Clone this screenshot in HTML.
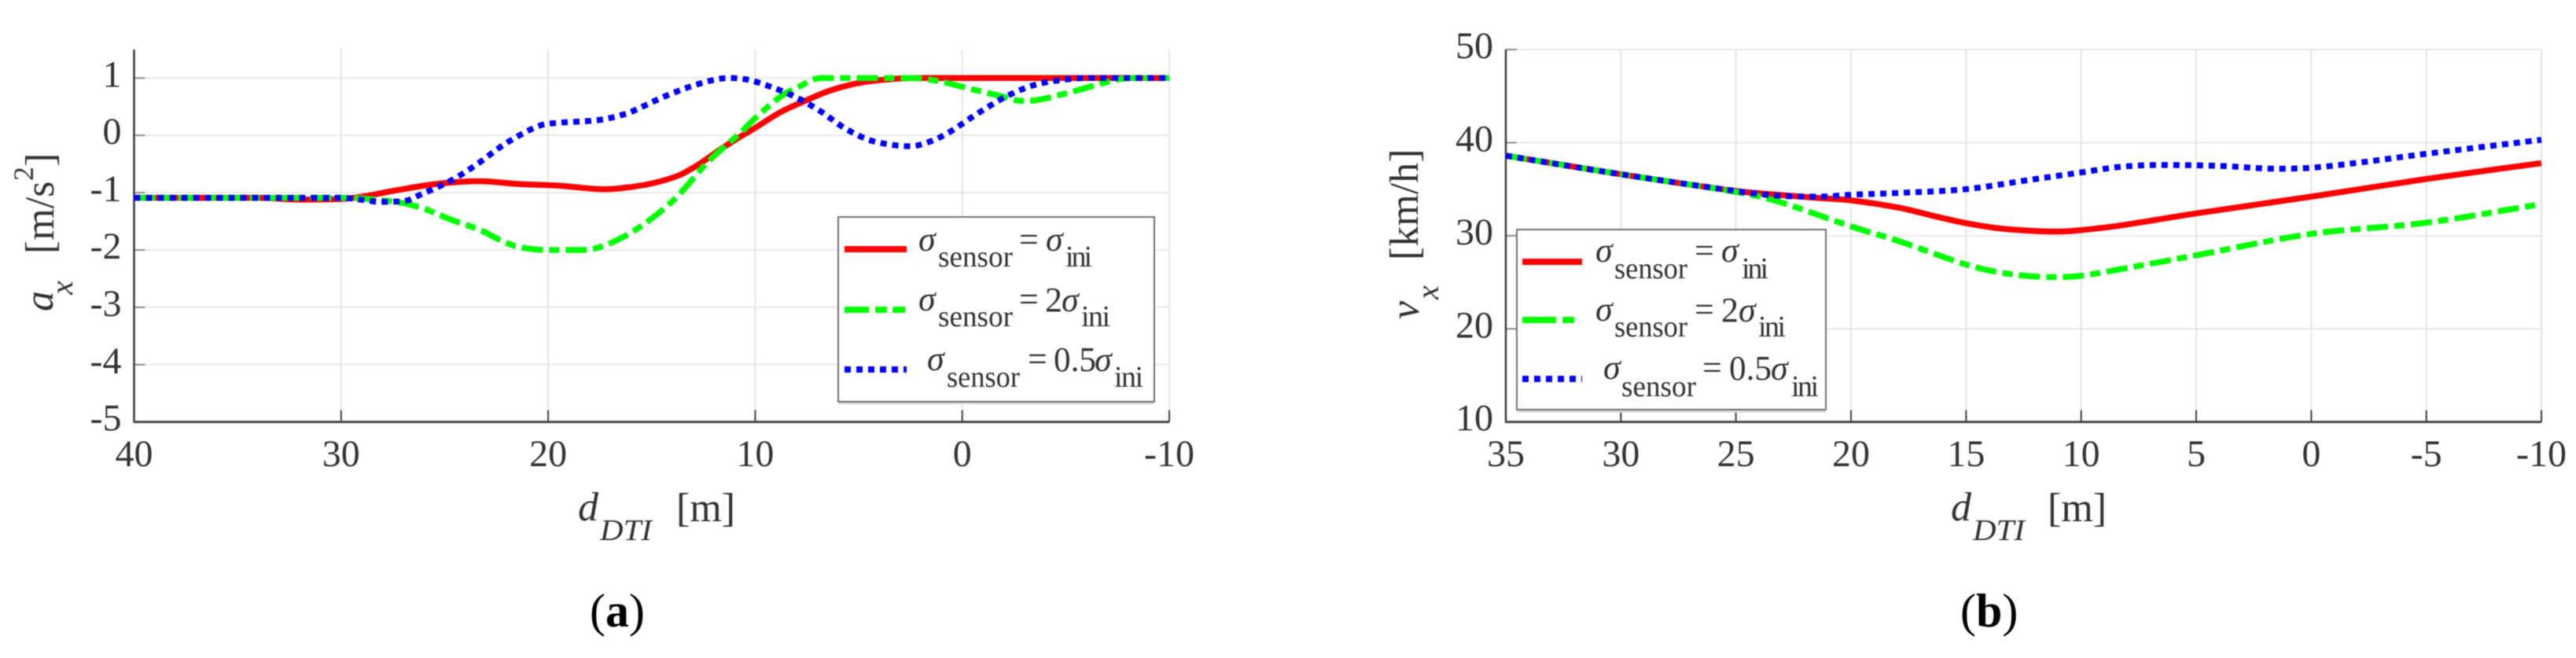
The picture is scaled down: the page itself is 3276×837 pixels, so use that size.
<!DOCTYPE html>
<html lang="en">
<head>
<meta charset="utf-8">
<title>Longitudinal acceleration and velocity versus distance</title>
<style>
html,body{margin:0;padding:0;background:#fff;width:3276px;height:837px;overflow:hidden}
svg{display:block;filter:blur(0.6px)}
text{font-family:"Liberation Serif",serif;fill:#333}
.it{font-style:italic}
.sym{font-style:italic;font-size:44px}
.sub{font-size:38px}
.eq{font-size:44px}
.tick{font-size:48px}
.lab{font-size:52px}
.cap{font-size:60px;fill:#000}
</style>
</head>
<body>
<svg id="figure" xmlns="http://www.w3.org/2000/svg" width="3276" height="837" viewBox="0 0 3276 837">
  <rect width="3276" height="837" fill="#fff"/>
  <g id="chart-a"></g>
  <g id="chart-b"></g>

  <g>
    <text class="it" font-size="52" transform="translate(67,396) rotate(-90)">a</text>
    <text class="it" font-size="40" transform="translate(92,375) rotate(-90)">x</text>
    <text class="lab" transform="translate(68,323) rotate(-90)">[m/s</text>
    <text font-size="36" transform="translate(42,230) rotate(-90)">2</text>
    <text class="lab" transform="translate(68,212) rotate(-90)">]</text>
  </g>
  <g>
    <text class="it" font-size="52" x="735" y="662">d</text>
    <text class="it" font-size="38" x="763" y="687" textLength="66" lengthAdjust="spacingAndGlyphs">DTI</text>
    <text class="lab" x="860" y="663">[m]</text>
  </g>
  <text class="cap" x="750" y="797">(<tspan font-weight="bold">a</tspan>)</text>

  <g>
    <text class="it" font-size="52" transform="translate(1804,406) rotate(-90)">v</text>
    <text class="it" font-size="40" transform="translate(1829,381) rotate(-90)">x</text>
    <text class="lab" transform="translate(1803,331) rotate(-90)">[km/h]</text>
  </g>
  <g>
    <text class="it" font-size="52" x="2481" y="662">d</text>
    <text class="it" font-size="38" x="2509" y="687" textLength="66" lengthAdjust="spacingAndGlyphs">DTI</text>
    <text class="lab" x="2604" y="663">[m]</text>
  </g>
  <text class="cap" x="2493" y="797">(<tspan font-weight="bold">b</tspan>)</text>

  <g>
    <rect x="1066" y="509" width="402" height="5" fill="#d9d9d9"/>
    <rect x="1066" y="276" width="402" height="235" fill="#fff" stroke="#707070" stroke-width="2"/>
    <line x1="1074" x2="1153" y1="317" y2="317" stroke="#ff0000" stroke-width="8"/>
    <line x1="1074" x2="1153" y1="394" y2="394" stroke="#00ff00" stroke-width="8" stroke-dasharray="31 8 15 7 16 7"/>
    <line x1="1074" x2="1153" y1="470" y2="470" stroke="#0000ff" stroke-width="8" stroke-dasharray="8 7"/>
    <g>
      <text class="sym" x="1168" y="319">σ</text><text class="sub" x="1193" y="339" textLength="95" lengthAdjust="spacingAndGlyphs">sensor</text>
      <text class="eq" x="1296" y="319">=</text><text class="sym" x="1330" y="319">σ</text><text class="sub" x="1355" y="339" textLength="34">ini</text>
    </g>
    <g>
      <text class="sym" x="1168" y="395">σ</text><text class="sub" x="1193" y="415" textLength="95" lengthAdjust="spacingAndGlyphs">sensor</text>
      <text class="eq" x="1296" y="395">=</text><text class="eq" x="1329" y="396">2</text><text class="sym" x="1350" y="396">σ</text><text class="sub" x="1375" y="415" textLength="37">ini</text>
    </g>
    <g>
      <text class="sym" x="1179" y="471">σ</text><text class="sub" x="1204" y="492" textLength="93" lengthAdjust="spacingAndGlyphs">sensor</text>
      <text class="eq" x="1307" y="471">=</text><text class="eq" x="1340" y="472" textLength="54" lengthAdjust="spacingAndGlyphs">0.5</text><text class="sym" x="1392" y="472">σ</text><text class="sub" x="1417" y="492" textLength="37">ini</text>
    </g>
  </g>

  <g>
    <rect x="1929" y="520" width="393" height="5" fill="#d9d9d9"/>
    <rect x="1929" y="292" width="393" height="229" fill="#fff" stroke="#707070" stroke-width="2"/>
    <line x1="1936" x2="2012" y1="333" y2="333" stroke="#ff0000" stroke-width="8"/>
    <line x1="1936" x2="2012" y1="407" y2="407" stroke="#00ff00" stroke-width="8" stroke-dasharray="43 8 15 10"/>
    <line x1="1936" x2="2012" y1="482" y2="482" stroke="#0000ff" stroke-width="8" stroke-dasharray="8 7"/>
    <g>
      <text class="sym" x="2029" y="333">σ</text><text class="sub" x="2053" y="354" textLength="93" lengthAdjust="spacingAndGlyphs">sensor</text>
      <text class="eq" x="2155" y="333">=</text><text class="sym" x="2189" y="333">σ</text><text class="sub" x="2215" y="354" textLength="34">ini</text>
    </g>
    <g>
      <text class="sym" x="2029" y="408">σ</text><text class="sub" x="2053" y="428" textLength="93" lengthAdjust="spacingAndGlyphs">sensor</text>
      <text class="eq" x="2155" y="408">=</text><text class="eq" x="2189" y="409">2</text><text class="sym" x="2211" y="409">σ</text><text class="sub" x="2236" y="428" textLength="35">ini</text>
    </g>
    <g>
      <text class="sym" x="2039" y="482">σ</text><text class="sub" x="2062" y="504" textLength="95" lengthAdjust="spacingAndGlyphs">sensor</text>
      <text class="eq" x="2165" y="482">=</text><text class="eq" x="2199" y="483" textLength="54" lengthAdjust="spacingAndGlyphs">0.5</text><text class="sym" x="2252" y="483">σ</text><text class="sub" x="2278" y="504" textLength="35">ini</text>
    </g>
  </g>
</svg>
<script>
// Chart (a): acceleration values
const aXTicks = [40, 30, 20, 10, 0, -10];
const aYTicks = [1, 0, -1, -2, -3, -4, -5];
const aRedD = [40, 34, 32, 30, 29, 27.2, 25.2, 23.3, 21.4, 19.4, 17.3, 16.2, 15, 13.7, 12.7, 11.7, 10.7, 10, 8.8, 7.6, 6.4, 4.9, 3.5, 2.2, -10];
const aRedV = [-1.09, -1.09, -1.12, -1.11, -1.07, -0.95, -0.84, -0.8, -0.85, -0.88, -0.94, -0.91, -0.84, -0.7, -0.5, -0.25, -0.02, 0.13, 0.4, 0.6, 0.78, 0.92, 0.98, 1, 1];
const aGreenD = [40, 30, 29.1, 27.2, 26, 24.7, 23.3, 22.3, 21.4, 20, 18.4, 17.5, 16.2, 15, 13.8, 12.3, 10.7, 10, 8.8, 8, 6.8, 5.3, 2.5, 1.2, -0.4, -1.8, -2.9, -3.7, -5.3, -7.2, -8.1, -10];
const aGreenV = [-1.09, -1.09, -1.1, -1.17, -1.28, -1.47, -1.65, -1.83, -1.95, -2, -2, -1.95, -1.74, -1.45, -1.08, -0.47, 0.05, 0.3, 0.67, 0.83, 1, 1, 1, 0.95, 0.81, 0.69, 0.6, 0.62, 0.76, 0.95, 1, 1];
const aBlueD = [40, 30, 29.1, 28.1, 27, 26.2, 24.7, 23.5, 22, 20.4, 19.4, 17.5, 16.2, 15.8, 14.3, 12.7, 11.3, 10.35, 9.2, 8, 6.8, 5.7, 4.5, 3.3, 2.5, 1.5, 0.6, -0.4, -1.4, -2.3, -3.5, -4.9, -6.2, -10];
const aBlueV = [-1.09, -1.09, -1.12, -1.16, -1.15, -1.04, -0.79, -0.52, -0.13, 0.17, 0.22, 0.27, 0.38, 0.44, 0.69, 0.9, 1, 0.97, 0.84, 0.66, 0.41, 0.13, -0.08, -0.17, -0.19, -0.1, 0.06, 0.3, 0.53, 0.71, 0.88, 0.97, 1, 1];

// Chart (b): velocity values
const bXTicks = [35, 30, 25, 20, 15, 10, 5, 0, -5, -10];
const bYTicks = [50, 40, 30, 20, 10];
const bRedD = [35, 30, 25, 23.2, 21.4, 20, 17.9, 16.2, 15, 13.4, 11, 10, 8.3, 5, 0, -5, -10];
const bRedV = [38.6, 36.6, 34.8, 34.4, 34.05, 33.8, 33, 32, 31.35, 30.75, 30.45, 30.6, 31.1, 32.4, 34.2, 36.1, 37.8];
const bGreenD = [35, 30, 25, 23.2, 20, 17.9, 15, 13.4, 11.9, 11, 10, 8.3, 5, 0, -5, -10];
const bGreenV = [38.6, 36.6, 34.7, 33.7, 31, 29.4, 26.9, 26, 25.6, 25.55, 25.7, 26.4, 27.9, 30.2, 31.4, 33.4];
const bBlueD = [35, 30, 25, 23.2, 21.4, 20, 17.9, 15, 12.5, 10, 8.3, 6.6, 4, 1.5, 0, -1.9, -5, -10];
const bBlueV = [38.6, 36.6, 34.8, 34.3, 34.2, 34.4, 34.6, 35, 35.9, 36.8, 37.4, 37.6, 37.5, 37.2, 37.3, 37.8, 38.8, 40.3];

const SVGNS = 'http://www.w3.org/2000/svg';

function axisX(lo, hi, left, right) {
  return function (v) { return left + (lo - v) / (lo - hi) * (right - left); };
}
function axisY(vTop, vBottom, top, bottom) {
  return function (v) { return top + (vTop - v) / (vTop - vBottom) * (bottom - top); };
}
function smoothPath(xs, ys) {
  const n = xs.length, m = [], d = [];
  for (let i = 0; i < n - 1; i++) d.push((ys[i + 1] - ys[i]) / (xs[i + 1] - xs[i]));
  m.push(d[0]);
  for (let i = 1; i < n - 1; i++) {
    if (d[i - 1] * d[i] <= 0) { m.push(0); continue; }
    const c = (ys[i + 1] - ys[i - 1]) / (xs[i + 1] - xs[i - 1]);
    const lim = 3 * Math.min(Math.abs(d[i - 1]), Math.abs(d[i]));
    m.push(Math.sign(c) * Math.min(Math.abs(c), lim));
  }
  m.push(d[n - 2]);
  let p = 'M' + xs[0].toFixed(2) + ' ' + ys[0].toFixed(2);
  for (let i = 0; i < n - 1; i++) {
    const h = (xs[i + 1] - xs[i]) / 3;
    p += 'C' + (xs[i] + h).toFixed(2) + ' ' + (ys[i] + m[i] * h).toFixed(2) + ' ' +
      (xs[i + 1] - h).toFixed(2) + ' ' + (ys[i + 1] - m[i + 1] * h).toFixed(2) + ' ' +
      xs[i + 1].toFixed(2) + ' ' + ys[i + 1].toFixed(2);
  }
  return p;
}
function drawLine(g, x1, y1, x2, y2, color, width) {
  const l = document.createElementNS(SVGNS, 'line');
  l.setAttribute('x1', x1);
  l.setAttribute('y1', y1);
  l.setAttribute('x2', x2);
  l.setAttribute('y2', y2);
  l.setAttribute('stroke', color);
  l.setAttribute('stroke-width', width);
  g.appendChild(l);
  return l;
}
function drawFrame(g, xTicks, yTicks, X, Y, left, right, top, bottom) {
  yTicks.forEach(function (v) {
    const y = Y(v);
    if (y < bottom - 1) {
      const grid = drawLine(g, left, y, right, y, '#e8e8e8', 2);
      
      
      const mark = drawLine(g, left, y, left + 14, y, '#8c8c8c', 2);
      
      
    }
    const t = document.createElementNS(SVGNS, 'text');
    t.setAttribute('class', 'tick');
    t.setAttribute('x', left - 16);
    t.setAttribute('y', y + 11);
    t.setAttribute('text-anchor', 'end');
    t.textContent = v;
    
    
    g.appendChild(t);
  });
  xTicks.forEach(function (v) {
    const x = X(v);
    if (x > left + 1) {
      const grid = drawLine(g, x, top, x, bottom, '#e4e4e4', 2);
      
      
      const mark = drawLine(g, x, bottom - 15, x, bottom, '#404040', 2);
      
      
    }
    const t = document.createElementNS(SVGNS, 'text');
    t.setAttribute('class', 'tick');
    t.setAttribute('x', x);
    t.setAttribute('y', 593);
    t.setAttribute('text-anchor', 'middle');
    t.textContent = v;
    
    
    g.appendChild(t);
  });
  const yAxis = drawLine(g, left, top, left, bottom + 1, '#3c3c3c', 2.5);
  
  
  const xAxis = drawLine(g, left, bottom, right, bottom, '#454545', 3);
  
  
}
function drawSeries(g, ds, vs, X, Y, color, dash) {
  const p = document.createElementNS(SVGNS, 'path');
  p.setAttribute('d', smoothPath(ds.map(X), vs.map(Y)));
  p.setAttribute('fill', 'none');
  p.setAttribute('stroke', color);
  p.setAttribute('stroke-width', '7.5');
  if (dash) p.setAttribute('stroke-dasharray', dash);
  g.appendChild(p);
  return p;
}

const gA = document.getElementById('chart-a');
const xA = axisX(40, -10, 170.5, 1487);
const yA = axisY(1.5, -5, 62.8, 536.7);
drawFrame(gA, aXTicks, aYTicks, xA, yA, 170.5, 1487, 63, 536.7);
const aRed = drawSeries(gA, aRedD, aRedV, xA, yA, '#ff0000', null);


const aGreen = drawSeries(gA, aGreenD, aGreenV, xA, yA, '#00ff00', '27 8 13 8');


const aBlue = drawSeries(gA, aBlueD, aBlueV, xA, yA, '#0000ff', '8 7');



const gB = document.getElementById('chart-b');
const xB = axisX(35, -10, 1915, 3232);
const yB = axisY(50, 10, 63, 536.7);
drawFrame(gB, bXTicks, bYTicks, xB, yB, 1915, 3232, 63, 536.7);
const bRed = drawSeries(gB, bRedD, bRedV, xB, yB, '#ff0000', null);


const bGreen = drawSeries(gB, bGreenD, bGreenV, xB, yB, '#00ff00', '27 8 13 8');


const bBlue = drawSeries(gB, bBlueD, bBlueV, xB, yB, '#0000ff', '8 7');


</script>
</body>
</html>
